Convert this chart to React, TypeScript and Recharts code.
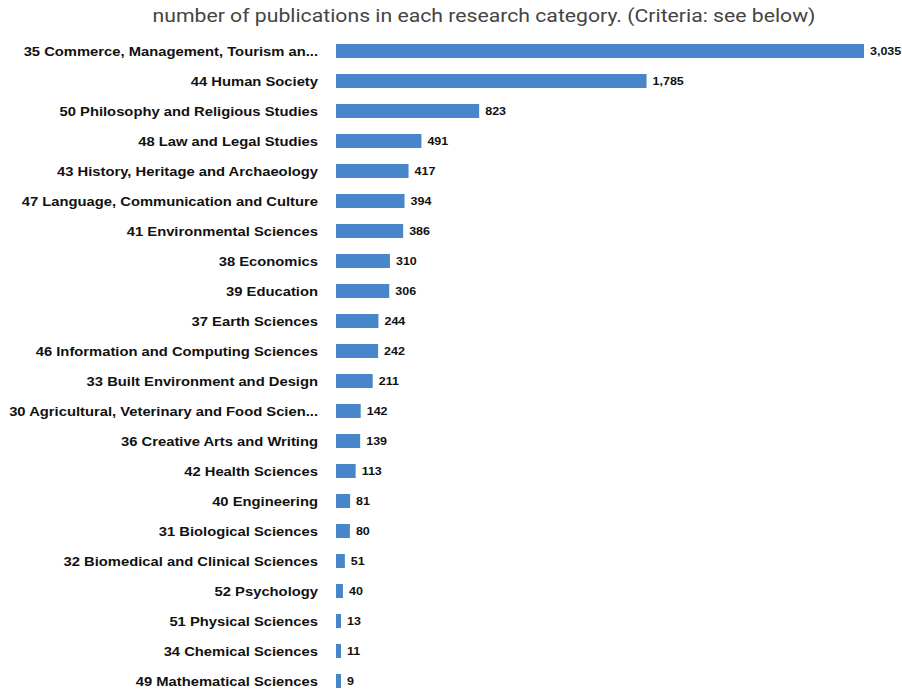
import React from "react";
import { BarChart, Bar, XAxis, YAxis, LabelList, Rectangle } from "recharts";

const categories = [
  "35 Commerce, Management, Tourism an...",
  "44 Human Society",
  "50 Philosophy and Religious Studies",
  "48 Law and Legal Studies",
  "43 History, Heritage and Archaeology",
  "47 Language, Communication and Culture",
  "41 Environmental Sciences",
  "38 Economics",
  "39 Education",
  "37 Earth Sciences",
  "46 Information and Computing Sciences",
  "33 Built Environment and Design",
  "30 Agricultural, Veterinary and Food Scien...",
  "36 Creative Arts and Writing",
  "42 Health Sciences",
  "40 Engineering",
  "31 Biological Sciences",
  "32 Biomedical and Clinical Sciences",
  "52 Psychology",
  "51 Physical Sciences",
  "34 Chemical Sciences",
  "49 Mathematical Sciences",
];

const publications = [
  3035, 1785, 823, 491, 417, 394, 386, 310, 306, 244, 242, 211, 142, 139, 113, 81, 80, 51, 40, 13, 11, 9,
];

const title = "number of publications in each research category. (Criteria: see below)";

const data = categories.map((name, i) => ({ name, value: publications[i] }));

const FONT = "'Liberation Sans', Arial, Helvetica, sans-serif";
const STRETCH = 1.137;
const MIN_BAR = 5;

const CategoryTick = (props: any) => {
  const { x, y, payload } = props;
  return (
    <g transform={`translate(${x},${y})`}>
      <text
        transform={`scale(${STRETCH},1)`}
        x={0}
        y={0}
        dy="0.355em"
        textAnchor="end"
        fontFamily={FONT}
        fontSize={13}
        fontWeight={700}
        fill="#111111"
      >
        {payload.value}
      </text>
    </g>
  );
};

const ValueLabel = (props: any) => {
  const { x, y, width, height, value } = props;
  const w = Math.max(Number(width), MIN_BAR);
  const lx = Number(x) + w + 6;
  const ly = Number(y) + Number(height) / 2;
  return (
    <g transform={`translate(${lx},${ly})`}>
      <text
        transform={`scale(${STRETCH},1)`}
        x={0}
        y={0}
        dy="0.355em"
        textAnchor="start"
        fontFamily={FONT}
        fontSize={11}
        fontWeight={700}
        fill="#111111"
      >
        {Number(value).toLocaleString("en-US")}
      </text>
    </g>
  );
};

const BarShape = (props: any) => {
  const { x, y, width, height, fill } = props;
  return <Rectangle x={x} y={y} width={Math.max(Number(width), MIN_BAR)} height={height} fill={fill} />;
};

export default function App() {
  return (
    <div
      style={{
        position: "fixed",
        left: 0,
        top: 0,
        width: 902,
        height: 689,
        overflow: "hidden",
        background: "#ffffff",
      }}
    >
      <div
        style={{
          position: "absolute",
          left: 0,
          top: 4,
          width: 968,
          textAlign: "center",
          fontFamily: "Roboto, sans-serif",
          fontSize: 18,
          color: "#444444",
          lineHeight: "24px",
          whiteSpace: "nowrap",
          transform: "scaleX(1.178)",
          transformOrigin: "484px 50%",
        }}
      >
        {title}
      </div>
      <div style={{ position: "absolute", left: 0, top: 0 }}>
        <BarChart
          width={902}
          height={700}
          data={data}
          layout="vertical"
          margin={{ top: 36, right: 38, bottom: 4, left: 8 }}
        >
          <XAxis type="number" domain={[0, 3035]} hide />
          <YAxis
            type="category"
            dataKey="name"
            width={328}
            axisLine={false}
            tickLine={false}
            tickSize={0}
            tickMargin={18}
            interval={0}
            tick={<CategoryTick />}
          />
          <Bar dataKey="value" fill="#4787c9" barSize={14} shape={<BarShape />} isAnimationActive={false}>
            <LabelList dataKey="value" content={<ValueLabel />} />
          </Bar>
        </BarChart>
      </div>
    </div>
  );
}
